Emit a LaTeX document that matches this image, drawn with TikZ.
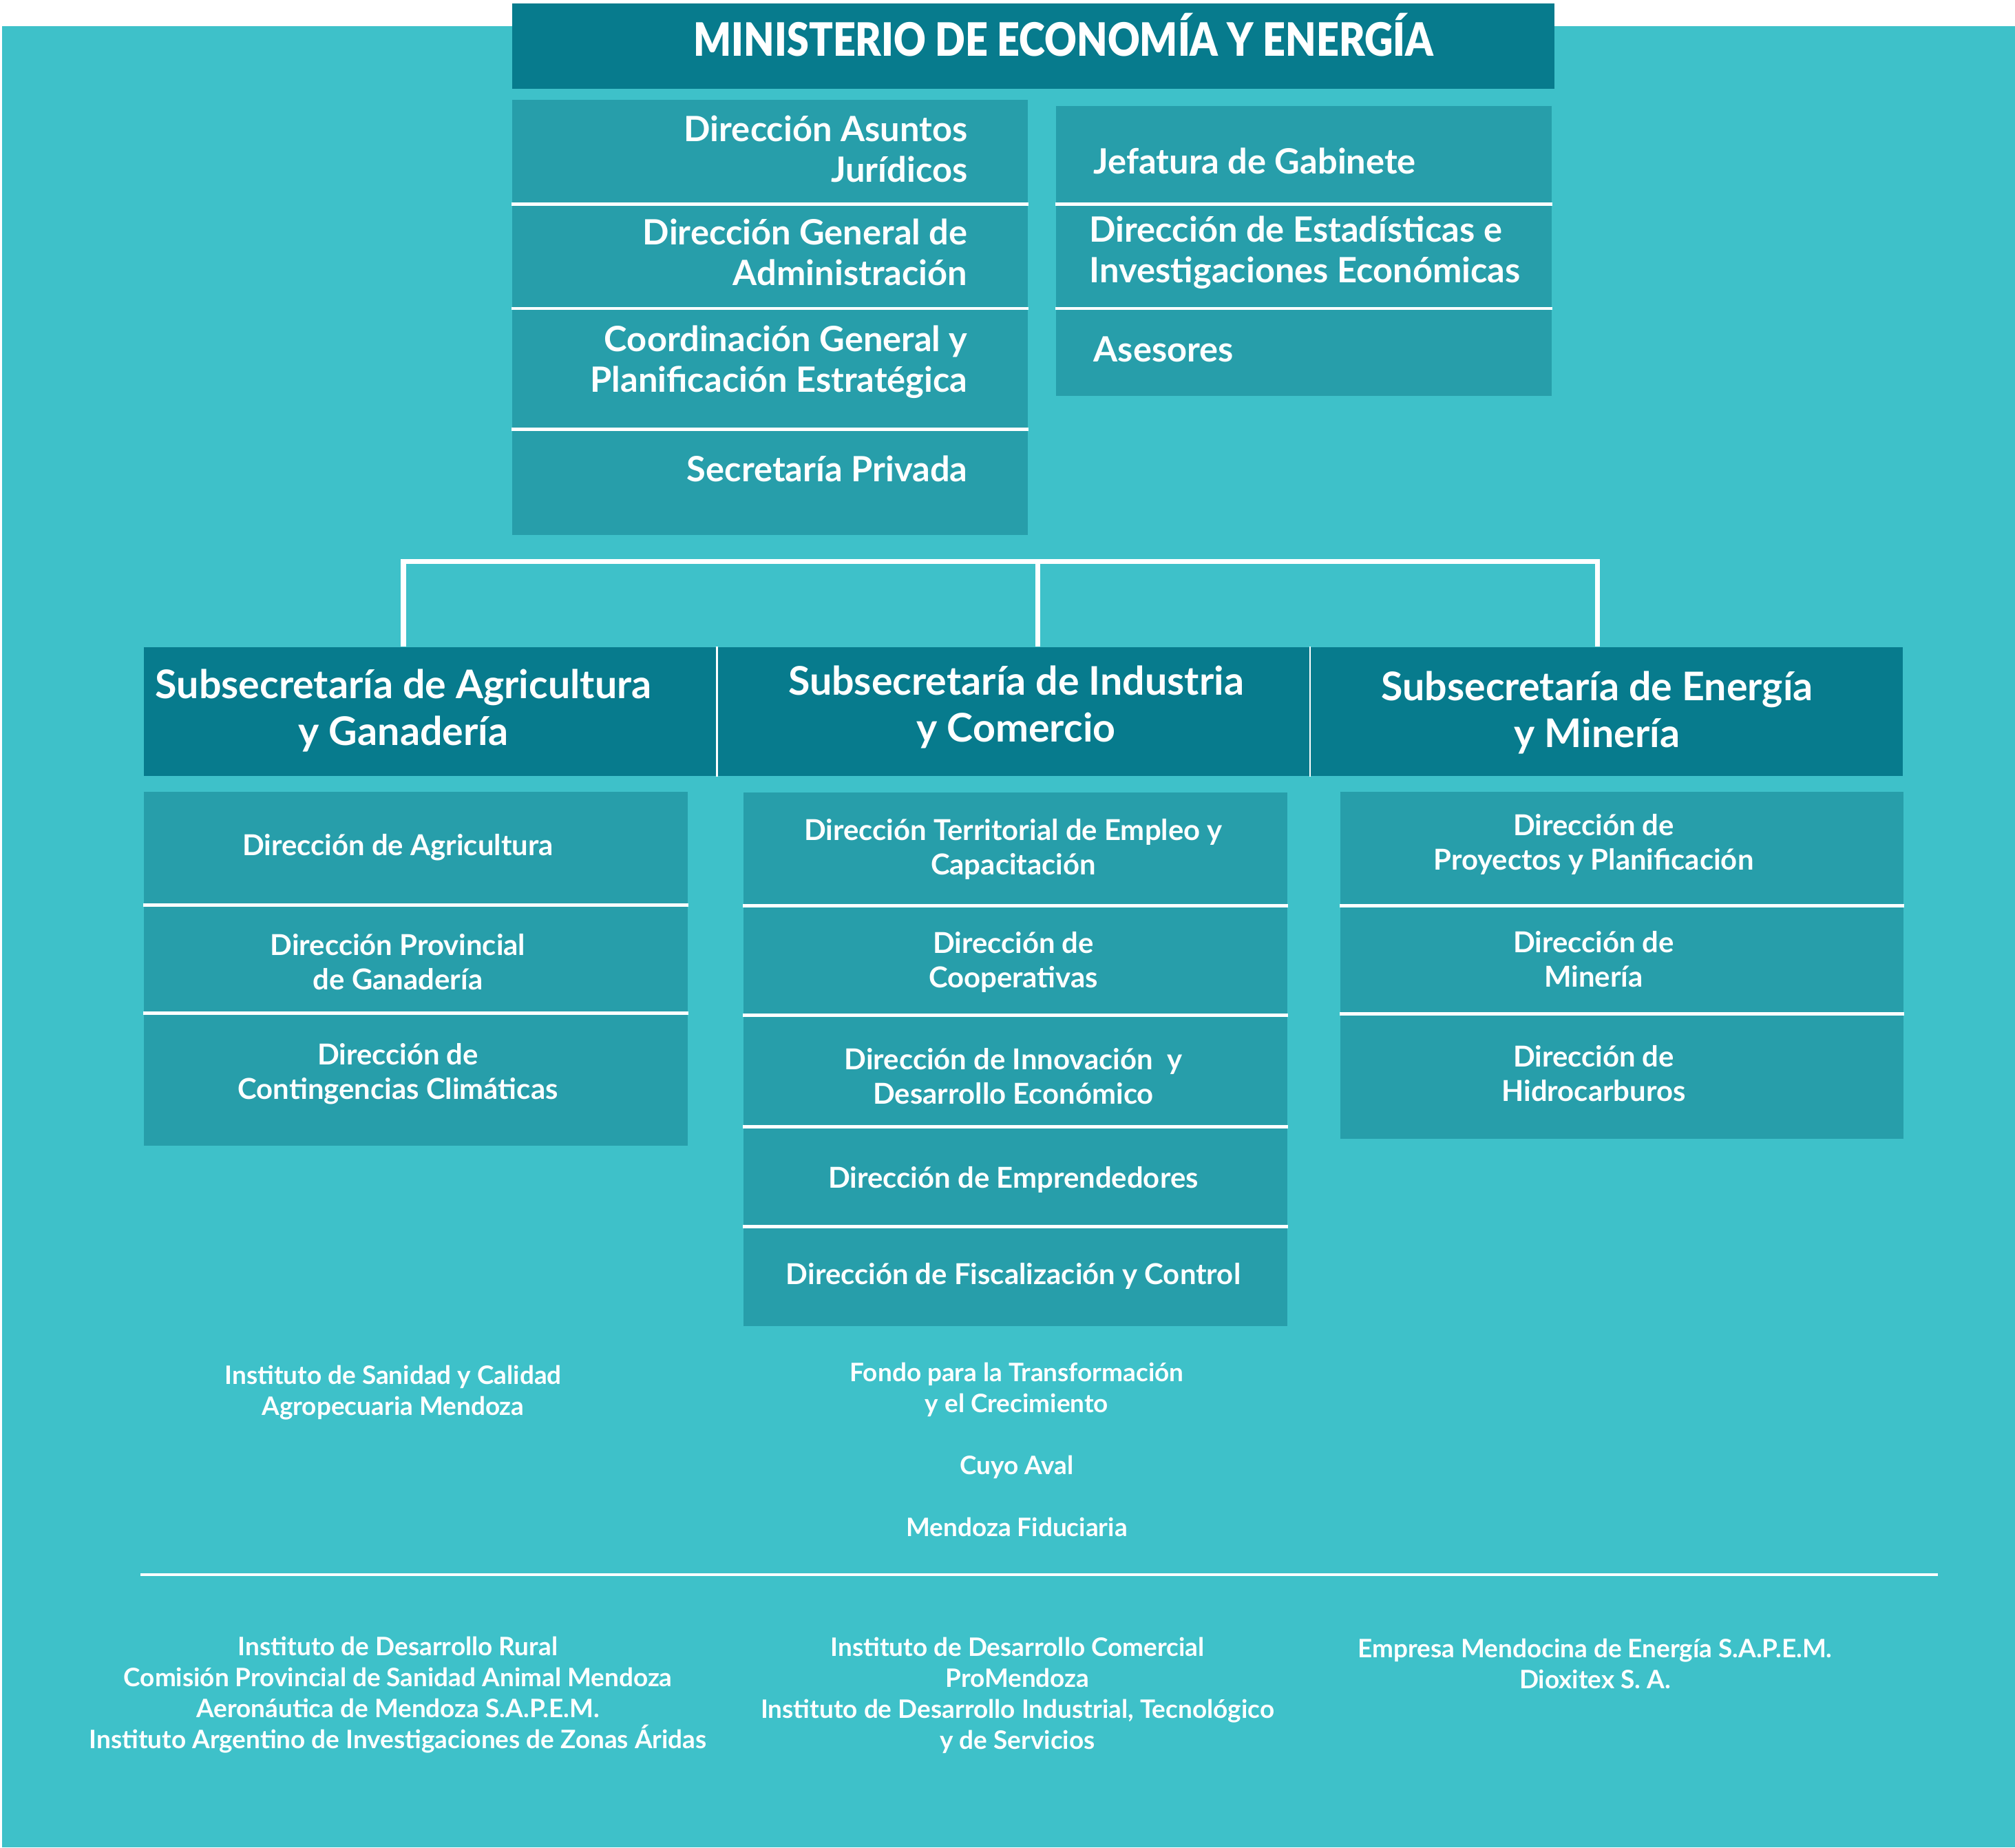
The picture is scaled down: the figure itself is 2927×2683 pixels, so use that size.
\documentclass[tikz,border=0pt]{standalone}
\usepackage{fontspec}
\usepackage{graphicx}
\setmainfont{Lato}
\IfFontExistsTF{Lato Black}{\newfontfamily\ttlfont{Lato Black}}{%
  \IfFontExistsTF{Lato Heavy}{\newfontfamily\ttlfont{Lato Heavy}}{\newcommand\ttlfont{\bfseries}}}
\definecolor{bgteal}{HTML}{3EC1C9}
\definecolor{cellteal}{HTML}{279EAA}
\definecolor{darkteal}{HTML}{077B8D}

\begin{document}
\begin{tikzpicture}[x=0.01cm,y=-0.01cm,
  cell/.style={fill=cellteal,inner sep=0pt,anchor=north west},
  headcell/.style={fill=darkteal,inner sep=0pt,anchor=north west,minimum height=1.87cm},
  divider/.style={draw=white,line width=1.2pt},
  link/.style={draw=white,line width=2pt},
  stafftxt/.style={text=white,inner sep=0pt,font=\bfseries\fontsize{14.4}{16.8}\selectfont},
  headtxt/.style={text=white,inner sep=0pt,align=center,font=\bfseries\fontsize{16.3}{19.3}\selectfont},
  subtxt/.style={text=white,inner sep=0pt,align=center,font=\bfseries\fontsize{11.9}{14.2}\selectfont},
  smalltxt/.style={text=white,inner sep=0pt,align=center,font=\bfseries\fontsize{10.5}{12.8}\selectfont}]
\useasboundingbox (0,0) rectangle (2927,2683);
\fill[white] (0,0) rectangle (2927,2683);
\fill[bgteal] (3,38) rectangle (2927,2683);

% ministerio
\node[fill=darkteal,inner sep=0pt,anchor=north west,minimum width=15.13cm,minimum height=1.24cm] (minbox) at (743,4) {};
\node[text=white,inner sep=0pt,anchor=base,font=\ttlfont\fontsize{19}{22}\selectfont] (ministerio) at (1545,81) {\scalebox{0.86}[1]{MINISTERIO DE ECONOMÍA Y ENERGÍA}};

% staff, left column
\node[cell,minimum width=7.49cm,minimum height=1.51cm] (cDAJ) at (743,144) {};
\node[cell,minimum width=7.49cm,minimum height=1.515cm] (cDGA) at (743,295) {};
\node[cell,minimum width=7.49cm,minimum height=1.755cm] (cCGP) at (743,446.5) {};
\node[cell,minimum width=7.49cm,minimum height=1.54cm] (cSP) at (743,622) {};
\draw[divider] (cDAJ.south west) -- (cDAJ.south east);
\draw[divider] (cDGA.south west) -- (cDGA.south east);
\draw[divider] (cCGP.south west) -- (cCGP.south east);
\node[stafftxt,align=right,anchor=east] (dAJ) at (1406,216) {Dirección Asuntos\\Jurídicos};
\node[stafftxt,align=right,anchor=east] (dGA) at (1406,366) {Dirección General de\\Administración};
\node[stafftxt,align=right,anchor=east] (cGP) at (1406,526) {Coordinación General y\\Planificación Estratégica};
\node[stafftxt,anchor=base east] (sPriv) at (1406,699) {Secretaría Privada};

% staff, right column
\node[cell,minimum width=7.20cm,minimum height=1.42cm] (cJG) at (1533,153) {};
\node[cell,minimum width=7.20cm,minimum height=1.515cm] (cDEI) at (1533,295) {};
\node[cell,minimum width=7.20cm,minimum height=1.275cm] (cAS) at (1533,446.5) {};
\draw[divider] (cJG.south west) -- (cJG.south east);
\draw[divider] (cDEI.south west) -- (cDEI.south east);
\node[stafftxt,anchor=base west] (jGab) at (1588,252) {Jefatura de Gabinete};
\node[stafftxt,align=left,anchor=west] (dEI) at (1582,367) {Dirección de Estadísticas e\\Investigaciones Económicas};
\node[stafftxt,anchor=base west] (ases) at (1588,525) {Asesores};

% subsecretarias
\node[headcell,minimum width=8.32cm] (hAG) at (208,939) {};
\node[headcell,minimum width=8.61cm] (hIC) at (1040,939) {};
\node[headcell,minimum width=8.62cm] (hEM) at (1901,939) {};
\draw[white,line width=0.8pt] (hAG.north east) -- (hAG.south east);
\draw[white,line width=0.8pt] (hIC.north east) -- (hIC.south east);
\node[headtxt] (tAG) at (586,1032) {Subsecretaría de Agricultura\\y Ganadería};
\node[headtxt] (tIC) at (1476,1027) {Subsecretaría de Industria\\y Comercio};
\node[headtxt] (tEM) at (2320,1035) {Subsecretaría de Energía\\y Minería};

% connectors
\coordinate (bar) at (1507,815);
\draw[link] (hAG.north -| tAG) |- (bar) -| (hEM.north -| tEM);
\draw[link] (bar) -- (bar |- hIC.north);

% agricultura
\node[cell,minimum width=7.90cm,minimum height=1.64cm] (cAgr) at (208,1149) {};
\node[cell,minimum width=7.90cm,minimum height=1.57cm] (cGan) at (208,1313) {};
\node[cell,minimum width=7.90cm,minimum height=1.93cm] (cCon) at (208,1470) {};
\draw[divider] (cAgr.south west) -- (cAgr.south east);
\draw[divider] (cGan.south west) -- (cGan.south east);
\node[subtxt,anchor=base] (dAgr) at (578,1242) {Dirección de Agricultura};
\node[subtxt] (dGan) at (578,1397) {Dirección Provincial\\de Ganadería};
\node[subtxt] (dCon) at (578,1560) {Dirección de\\Contingencias Climáticas};

% industria
\node[cell,minimum width=7.90cm,minimum height=1.64cm] (cEmp) at (1079,1150) {};
\node[cell,minimum width=7.90cm,minimum height=1.59cm] (cCoop) at (1079,1314) {};
\node[cell,minimum width=7.90cm,minimum height=1.62cm] (cInn) at (1079,1473) {};
\node[cell,minimum width=7.90cm,minimum height=1.45cm] (cEmpr) at (1079,1635) {};
\node[cell,minimum width=7.90cm,minimum height=1.45cm] (cFis) at (1079,1780) {};
\draw[divider] (cEmp.south west) -- (cEmp.south east);
\draw[divider] (cCoop.south west) -- (cCoop.south east);
\draw[divider] (cInn.south west) -- (cInn.south east);
\draw[divider] (cEmpr.south west) -- (cEmpr.south east);
\node[subtxt] (dEmp) at (1472,1233) {Dirección Territorial de Empleo y\\Capacitación};
\node[subtxt] (dCoop) at (1472,1397) {Dirección de\\Cooperativas};
\node[subtxt] (dInn) at (1472,1563) {Dirección de Innovación\ \ y\\Desarrollo Económico};
\node[subtxt,anchor=base] (dEmpr) at (1472,1725) {Dirección de Emprendedores};
\node[subtxt,anchor=base] (dFis) at (1472,1865) {Dirección de Fiscalización y Control};

% energia
\node[cell,minimum width=8.18cm,minimum height=1.65cm] (cPro) at (1946,1149) {};
\node[cell,minimum width=8.18cm,minimum height=1.57cm] (cMin) at (1946,1314) {};
\node[cell,minimum width=8.18cm,minimum height=1.82cm] (cHid) at (1946,1471) {};
\draw[divider] (cPro.south west) -- (cPro.south east);
\draw[divider] (cMin.south west) -- (cMin.south east);
\node[subtxt] (dPro) at (2315,1226) {Dirección de\\Proyectos y Planificación};
\node[subtxt] (dMin) at (2315,1393) {Dirección de\\Minería};
\node[subtxt] (dHid) at (2315,1559) {Dirección de\\Hidrocarburos};

% organismos
\node[smalltxt] (iscamen) at (571,2023) {Instituto de Sanidad y Calidad\\Agropecuaria Mendoza};
\node[smalltxt] (ftyc) at (1477,2018) {Fondo para la Transformación\\y el Crecimiento};
\node[smalltxt,anchor=base] (cuyo) at (1477,2141) {Cuyo Aval};
\node[smalltxt,anchor=base] (fiduc) at (1477,2231) {Mendoza Fiduciaria};

\coordinate (ruleL) at (204,2287);
\coordinate (ruleR) at (2815,2287);
\draw[white,line width=1.2pt] (ruleL) -- (ruleR);

\node[smalltxt] (entAG) at (578,2462) {Instituto de Desarrollo Rural\\Comisión Provincial de Sanidad Animal Mendoza\\Aeronáutica de Mendoza S.A.P.E.M.\\Instituto Argentino de Investigaciones de Zonas Áridas};
\node[smalltxt] (entIC) at (1478,2462) {Instituto de Desarrollo Comercial\\ProMendoza\\Instituto de Desarrollo Industrial, Tecnológico\\y de Servicios};
\node[smalltxt] (entEM) at (2317,2416) {Empresa Mendocina de Energía S.A.P.E.M.\\Dioxitex S. A.};
\end{tikzpicture}
\end{document}
